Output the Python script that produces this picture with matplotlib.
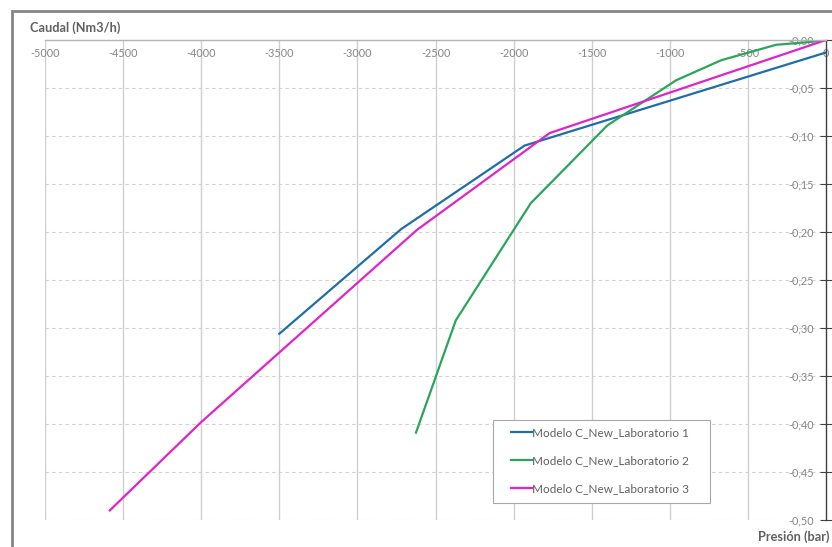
import matplotlib
matplotlib.use('Agg')
from matplotlib import pyplot as plt
from matplotlib.patches import Rectangle

plt.rcParams['font.family'] = ['Lato', 'DejaVu Sans']

# Data
lab1_p = [-3500, -2720, -1930, 0]
lab1_q = [-0.306, -0.197, -0.110, -0.013]

lab2_p = [-2625, -2370, -1890, -1400, -960, -670, -320, -100, 0]
lab2_q = [-0.409, -0.292, -0.170, -0.089, -0.042, -0.021, -0.005, -0.002, 0.0]

lab3_p = [-4585, -4000, -2620, -1770, 0]
lab3_q = [-0.490, -0.398, -0.198, -0.097, 0.0]

labels = ['Modelo C_New_Laboratorio 1', 'Modelo C_New_Laboratorio 2', 'Modelo C_New_Laboratorio 3']
colors = ['#1f6ea8', '#2ca55a', '#e024c8']

x_ticks = list(range(-5000, 1, 500))
y_ticks = [round(-0.05 * i, 2) for i in range(11)]

W, H = 832, 547
fig = plt.figure(figsize=(W / 100, H / 100), dpi=100)
ax = fig.add_axes([45 / W, 1 - 520 / H, (826 - 45) / W, (520 - 40) / H])

ax.plot(lab1_p, lab1_q, color=colors[0], lw=1.6, label=labels[0])
ax.plot(lab2_p, lab2_q, color=colors[1], lw=1.6, label=labels[1])
ax.plot(lab3_p, lab3_q, color=colors[2], lw=1.6, label=labels[2])

ax.set_xlim(-5000, 0)
ax.set_ylim(-0.5, 0)

# grid: solid vertical, dashed horizontal
for x in x_ticks[:-1]:
    ax.axvline(x, color='#cfcfcf', lw=1, zorder=0)
for y in y_ticks[1:]:
    ax.axhline(y, color='#d0d0d0', lw=0.8, ls=(0, (3, 3)), zorder=0)

for s in ['left', 'bottom']:
    ax.spines[s].set_visible(False)
ax.spines['top'].set_color('#b5b5b5')
ax.spines['top'].set_linewidth(1)
ax.spines['right'].set_color('#404040')
ax.spines['right'].set_linewidth(1)

ax.set_xticks(x_ticks)
ax.set_xticklabels([str(x) for x in x_ticks])
ax.tick_params(axis='x', top=True, labeltop=True, bottom=False, labelbottom=False,
               length=0, pad=-14, labelsize=7.8, labelcolor='#858585')

ax.set_yticks(y_ticks)
ax.set_yticklabels([('%.2f' % y).replace('.', ',') for y in y_ticks])
ax.tick_params(axis='y', left=False, labelleft=False, right=True, labelright=True,
               direction='inout', length=8, color='#404040', pad=-13,
               labelsize=7.8, labelcolor='#858585')
for t in ax.get_yticklabels():
    t.set_horizontalalignment('right')

fig.text(30 / W, 1 - 28 / H, 'Caudal (Nm3/h)', fontsize=9.2, fontweight='bold',
         color='#606060', va='center', ha='left')
fig.text(829 / W, 1 - 537 / H, 'Presión (bar)', fontsize=9.2, fontweight='bold',
         color='#606060', va='center', ha='right')

# legend box drawn separately so its size matches the original
ax.add_patch(Rectangle((493 / W, 1 - 503 / H), (710 - 493) / W, (503 - 420) / H,
                       transform=fig.transFigure, facecolor='white', edgecolor='#a8a8a8',
                       lw=0.8, zorder=4, clip_on=False))
leg = ax.legend(loc='upper left', bbox_to_anchor=(511 / W, 1 - 427 / H),
                bbox_transform=fig.transFigure, borderaxespad=0, frameon=False,
                fontsize=8.5, labelspacing=1.45, handlelength=1.8,
                handletextpad=0.0, borderpad=0)
leg.set_zorder(5)
for t in leg.get_texts():
    t.set_color('#606060')

# outer chart frame
fig.patches.append(Rectangle((12 / W, -0.1), 1.2, 1 - 11 / H + 0.1, transform=fig.transFigure,
                             fill=False, edgecolor='#858585', lw=2, clip_on=False))

plt.savefig('out.png', dpi=100)
